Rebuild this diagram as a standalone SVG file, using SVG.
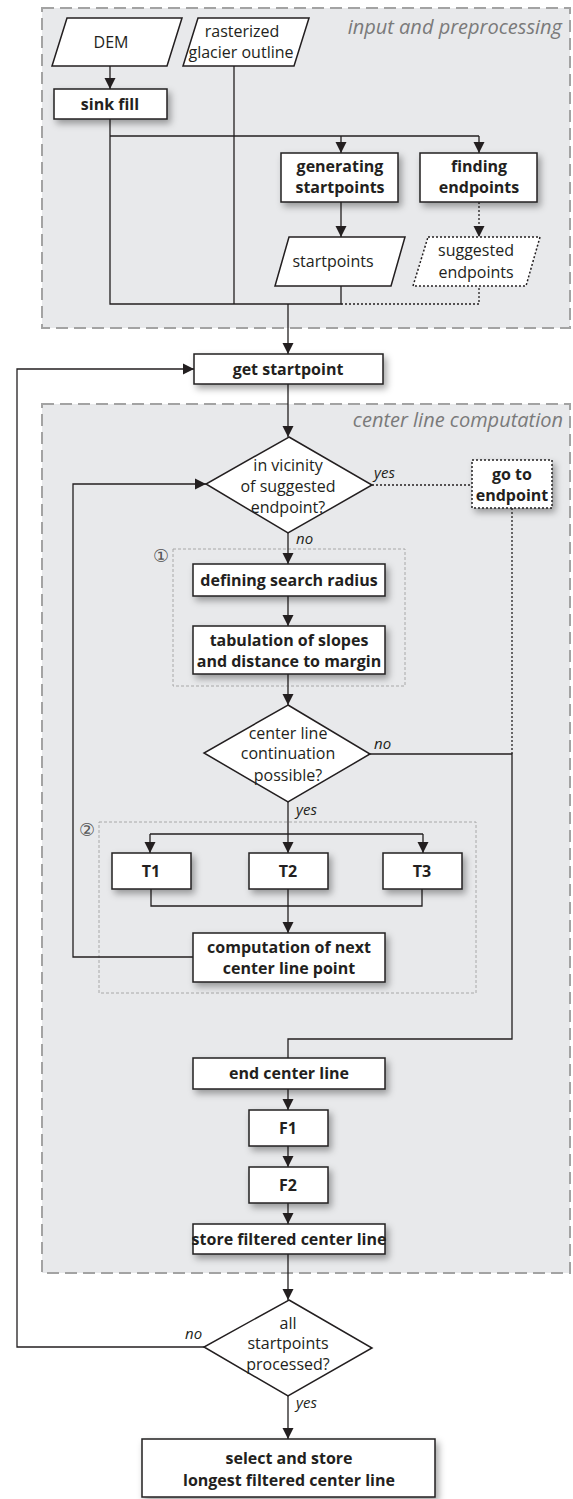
<svg xmlns="http://www.w3.org/2000/svg" width="573" height="1499" viewBox="0 0 573 1499">
<style>
.grp{fill:#e8e9eb;stroke:#a3a3a3;stroke-width:2;stroke-dasharray:12,6}
.sub{fill:none;stroke:#a8a8a8;stroke-width:1;stroke-dasharray:3,2}
.box{fill:#fff;stroke:#231f20;stroke-width:1.5}
.dbox{fill:#fff;stroke:#231f20;stroke-width:1.5;stroke-dasharray:2,2}
.ln{fill:none;stroke:#231f20;stroke-width:1.3}
.dl{fill:none;stroke:#231f20;stroke-width:1.3;stroke-dasharray:2,2}
.b{font-family:"Open Sans","Liberation Sans",sans-serif;font-weight:bold;font-size:16px;fill:#231f20;text-anchor:middle}
.r{font-family:"Open Sans","Liberation Sans",sans-serif;font-size:16px;fill:#231f20;text-anchor:middle}
.i{font-family:"Open Sans","Liberation Sans",sans-serif;font-style:italic;font-size:15px;fill:#231f20}
.t{font-family:"Open Sans","Liberation Sans",sans-serif;font-style:italic;font-size:20px;fill:#7a7a7a;text-anchor:end}
.c{font-family:"DejaVu Sans",sans-serif;font-size:18px;fill:#555;text-anchor:middle}
</style>
<defs>
<marker id="ah" viewBox="0 0 10 10" refX="10" refY="5" markerWidth="11" markerHeight="12" markerUnits="userSpaceOnUse" orient="auto">
<path d="M0,0 L10,5 L0,10 z" fill="#231f20"/>
</marker>
<filter id="sh" x="-20%" y="-30%" width="150%" height="180%">
<feDropShadow dx="3" dy="4" stdDeviation="3.5" flood-color="#000" flood-opacity="0.35"/>
</filter>
</defs>

<g id="group-input">
<rect class="grp" x="42" y="8" width="528" height="320"/>
<text class="t" x="562" y="34">input and preprocessing</text>
</g>
<g id="group-centerline">
<rect class="grp" x="42" y="404" width="528" height="869"/>
<text class="t" x="563" y="427">center line computation</text>
</g>
<g id="sub1">
<rect class="sub" x="173" y="549" width="232" height="137"/>
<text class="c" x="161" y="562">①</text>
</g>
<g id="sub2">
<rect class="sub" x="99" y="822" width="377" height="171"/>
<text class="c" x="87" y="836">②</text>
</g>

<g id="connectors">
<path class="ln" d="M110,66 V89" marker-end="url(#ah)"/>
<path class="ln" d="M110,119 V304 H341 V286"/>
<path class="ln" d="M234,66 V304"/>
<path class="ln" d="M110,136 H479"/>
<path class="ln" d="M341,136 V153" marker-end="url(#ah)"/>
<path class="ln" d="M479,136 V153" marker-end="url(#ah)"/>
<path class="ln" d="M341,202 V237" marker-end="url(#ah)"/>
<path class="dl" d="M479,202 V237" marker-end="url(#ah)"/>
<path class="dl" d="M341,304 H479 V286"/>
<path class="ln" d="M288,304 V354" marker-end="url(#ah)"/>
<path class="ln" d="M288,384 V437" marker-end="url(#ah)"/>
<path class="dl" d="M372,485 H472"/>
<path class="dl" d="M512,508 V754"/>
<path class="ln" d="M288,533 V564" marker-end="url(#ah)"/>
<path class="ln" d="M288,596 V626" marker-end="url(#ah)"/>
<path class="ln" d="M288,674 V705" marker-end="url(#ah)"/>
<path class="ln" d="M370,754 H512 V1039 H288 V1058"/>
<path class="ln" d="M288,802 V853" marker-end="url(#ah)"/>
<path class="ln" d="M150,834 H423"/>
<path class="ln" d="M150,834 V853" marker-end="url(#ah)"/>
<path class="ln" d="M423,834 V853" marker-end="url(#ah)"/>
<path class="ln" d="M151,889 V906 H422 V889"/>
<path class="ln" d="M288,889 V933" marker-end="url(#ah)"/>
<path class="ln" d="M193,957 H73 V484 H206" marker-end="url(#ah)"/>
<path class="ln" d="M288,1089 V1110" marker-end="url(#ah)"/>
<path class="ln" d="M288,1146 V1167" marker-end="url(#ah)"/>
<path class="ln" d="M288,1203 V1224" marker-end="url(#ah)"/>
<path class="ln" d="M288,1254 V1300" marker-end="url(#ah)"/>
<path class="ln" d="M204,1347 H17 V369 H194" marker-end="url(#ah)"/>
<path class="ln" d="M288,1396 V1439" marker-end="url(#ah)"/>
</g>

<g id="dem">
<polygon class="box" points="67,18 182,18 167,66 52,66"/>
<text class="r" x="111" y="48">DEM</text>
</g>
<g id="raster">
<polygon class="box" points="198,18 309,18 294,66 183,66"/>
<text class="r" x="242" y="37">rasterized</text>
<text class="r" x="241" y="58">glacier outline</text>
</g>
<g id="sinkfill">
<rect class="box" filter="url(#sh)" x="54" y="89" width="113" height="30"/>
<text class="b" x="110" y="110">sink fill</text>
</g>
<g id="genstart">
<rect class="box" filter="url(#sh)" x="281" y="153" width="117" height="49"/>
<text class="b" x="340" y="172">generating</text>
<text class="b" x="340" y="193">startpoints</text>
</g>
<g id="findend">
<rect class="box" filter="url(#sh)" x="420" y="153" width="117" height="49"/>
<text class="b" x="479" y="172">finding</text>
<text class="b" x="479" y="193">endpoints</text>
</g>
<g id="startpoints">
<polygon class="box" points="289,237 405,237 391,286 275,286"/>
<text class="r" x="333" y="267">startpoints</text>
</g>
<g id="suggested">
<polygon class="dbox" points="428,237 540,237 526,286 413,286"/>
<text class="r" x="476" y="256">suggested</text>
<text class="r" x="476" y="278">endpoints</text>
</g>
<g id="getstart">
<rect class="box" filter="url(#sh)" x="194" y="354" width="189" height="30"/>
<text class="b" x="288" y="375">get startpoint</text>
</g>
<g id="vicinity">
<polygon class="box" points="289,437 372,485 288,533 206,484"/>
<text class="r" x="288" y="471">in vicinity</text>
<text class="r" x="288" y="492">of suggested</text>
<text class="r" x="288" y="513">endpoint?</text>
<text class="i" x="374" y="478">yes</text>
<text class="i" x="296" y="544">no</text>
</g>
<g id="gotoend">
<rect class="dbox" filter="url(#sh)" x="472" y="460" width="80" height="48"/>
<text class="b" x="512" y="480">go to</text>
<text class="b" x="512" y="501">endpoint</text>
</g>
<g id="radius">
<rect class="box" filter="url(#sh)" x="193" y="564" width="192" height="32"/>
<text class="b" x="289" y="586">defining search radius</text>
</g>
<g id="tabulation">
<rect class="box" filter="url(#sh)" x="193" y="626" width="192" height="48"/>
<text class="b" x="289" y="646">tabulation of slopes</text>
<text class="b" x="289" y="667">and distance to margin</text>
</g>
<g id="continuation">
<polygon class="box" points="288,705 370,754 288,802 204,753"/>
<text class="r" x="288" y="739">center line</text>
<text class="r" x="288" y="759">continuation</text>
<text class="r" x="288" y="781">possible?</text>
<text class="i" x="374" y="749">no</text>
<text class="i" x="296" y="815">yes</text>
</g>
<g id="t1">
<rect class="box" filter="url(#sh)" x="112" y="853" width="79" height="36"/>
<text class="b" x="151" y="877">T1</text>
</g>
<g id="t2">
<rect class="box" filter="url(#sh)" x="249" y="853" width="79" height="36"/>
<text class="b" x="288" y="877">T2</text>
</g>
<g id="t3">
<rect class="box" filter="url(#sh)" x="383" y="853" width="79" height="36"/>
<text class="b" x="422" y="877">T3</text>
</g>
<g id="computation">
<rect class="box" filter="url(#sh)" x="193" y="933" width="192" height="49"/>
<text class="b" x="289" y="953">computation of next</text>
<text class="b" x="289" y="974">center line point</text>
</g>
<g id="endline">
<rect class="box" filter="url(#sh)" x="193" y="1058" width="192" height="31"/>
<text class="b" x="289" y="1079">end center line</text>
</g>
<g id="f1">
<rect class="box" filter="url(#sh)" x="249" y="1110" width="79" height="36"/>
<text class="b" x="288" y="1134">F1</text>
</g>
<g id="f2">
<rect class="box" filter="url(#sh)" x="249" y="1167" width="79" height="36"/>
<text class="b" x="288" y="1191">F2</text>
</g>
<g id="store">
<rect class="box" filter="url(#sh)" x="193" y="1224" width="192" height="30"/>
<text class="b" x="289" y="1245">store filtered center line</text>
</g>
<g id="allproc">
<polygon class="box" points="289,1300 372,1348 288,1396 204,1347"/>
<text class="r" x="288" y="1329">all</text>
<text class="r" x="288" y="1349">startpoints</text>
<text class="r" x="288" y="1370">processed?</text>
<text class="i" x="185" y="1339">no</text>
<text class="i" x="296" y="1408">yes</text>
</g>
<g id="final">
<rect class="box" filter="url(#sh)" x="142" y="1439" width="293" height="58"/>
<text class="b" x="289" y="1464">select and store</text>
<text class="b" x="289" y="1486">longest filtered center line</text>
</g>
</svg>
